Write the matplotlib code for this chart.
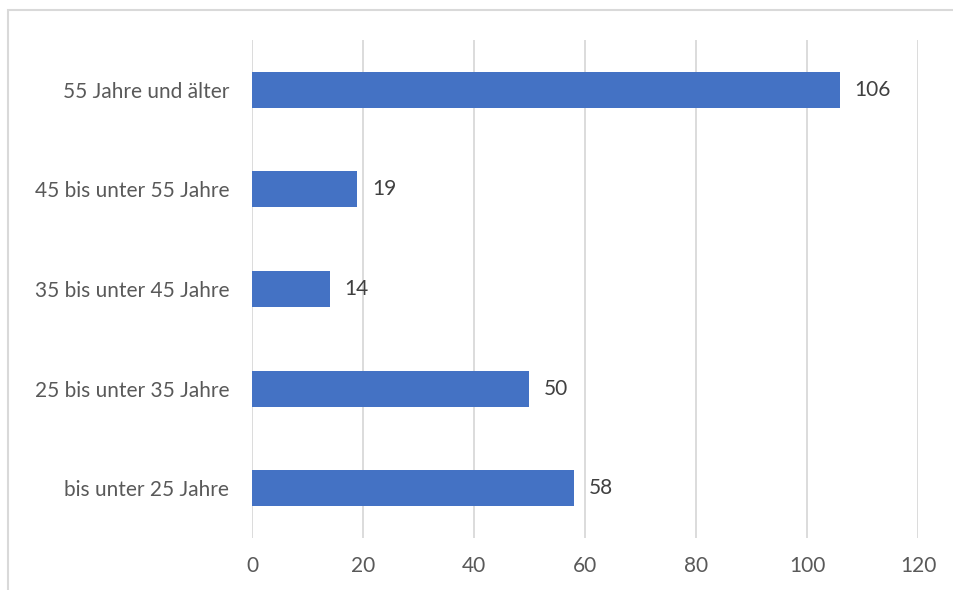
import matplotlib
matplotlib.use("Agg")
import matplotlib.pyplot as plt
from matplotlib.patches import Rectangle

categories = ["bis unter 25 Jahre", "25 bis unter 35 Jahre", "35 bis unter 45 Jahre",
              "45 bis unter 55 Jahre", "55 Jahre und älter"]
values = [58, 50, 14, 19, 106]
xticks = [0, 20, 40, 60, 80, 100, 120]

plt.rcParams['font.family'] = ['Lato', 'DejaVu Sans']

W, H = 954, 590
fig = plt.figure(figsize=(W / 100, H / 100), dpi=100)
ax = fig.add_axes([252 / W, 1 - 538 / H, (918 - 252) / W, (538 - 40) / H])

# chart frame
fig.patches.append(Rectangle((8 / W, -0.05), 1.1, 1 - 10 / H + 0.05, transform=fig.transFigure,
                             fill=False, edgecolor="#d9d9d9", linewidth=1.5))

pos = list(range(len(categories)))
ax.barh(pos, values, height=0.36, color="#4472c4", zorder=3)
for p, v in zip(pos, values):
    ax.text(v + 2.6, p, str(v), va="center", ha="left", fontsize=15, color="#404040")

ax.set_xlim(0, 120)
ax.set_ylim(-0.5, 4.5)
ax.set_xticks(xticks)
ax.set_xticklabels([str(t) for t in xticks], fontsize=15, color="#595959")
ax.set_yticks(pos)
ax.set_yticklabels(categories, fontsize=15, color="#595959")
ax.tick_params(length=0, pad=16.5, axis="y")
ax.tick_params(length=0, pad=13, axis="x")
ax.grid(axis="x", color="#d9d9d9", linewidth=1.3, zorder=0)
for s in ax.spines.values():
    s.set_visible(False)

fig.savefig("out.png", dpi=100, facecolor="white")
